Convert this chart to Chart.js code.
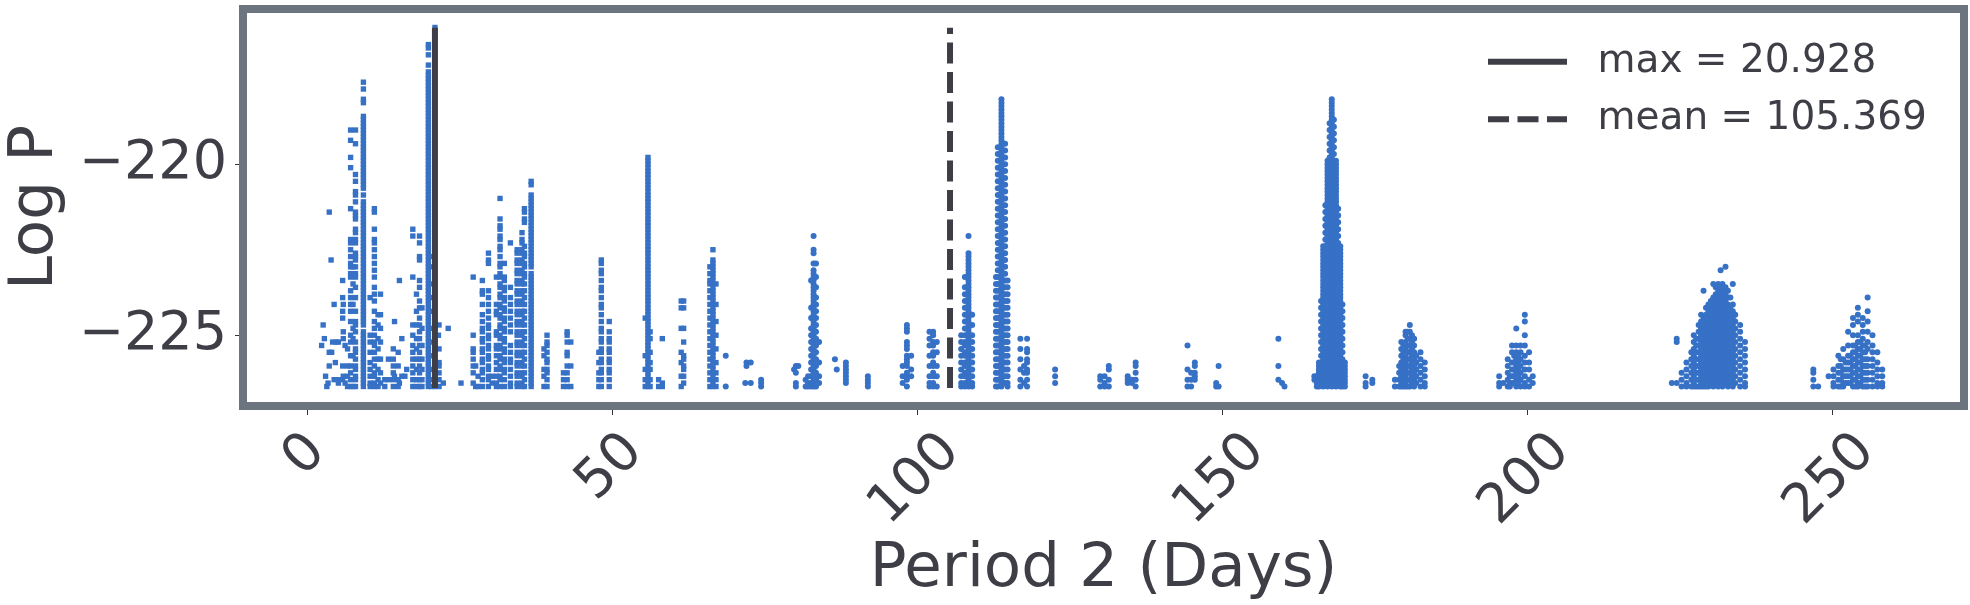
<!DOCTYPE html>
<html>
<head>
<meta charset="utf-8">
<script src="https://cdn.jsdelivr.net/npm/chart.js@4/dist/chart.umd.min.js"></script>
<style>
  html, body { margin: 0; background: #fff; }
  canvas { display: block; }
</style>
</head>
<body>
<canvas id="periodChart" width="1970" height="605"></canvas>
<script>
const maxPeriod = 20.928;
const meanPeriod = 105.369;
const lineLogP = [-226.54, -216.01];
const xTicks = [0, 50, 100, 150, 200, 250];
const yTicks = [-225, -220];

// each period has its list of log P values
const shortPeriods = [2.35, 2.6, 2.8, 3, 3.2, 3.4, 3.6, 3.9, 4, 4.15, 4.4, 4.6, 4.7, 5.1, 5.8, 5.9, 6.2, 6.6,
  7.1, 7.5, 7.9, 9.2, 10.3, 11, 11.6, 12, 12.7, 13.3, 14.1, 14.3, 14.9, 15.1, 15.5, 16, 16.3,
  17.3, 17.9, 18.4, 18.8, 19.85, 20.4, 20.93, 21.5, 21.6, 22.3, 23.1, 25.2,
  27.2, 27.6, 28, 28.7, 29.7, 30.3, 31, 31.6, 32.3, 33.3, 34.4, 35.2, 35.6, 36.7,
  38.8, 39.3, 42, 42.6, 43.2, 47.8, 48.2, 49.5, 55.4, 55.85, 56.2, 57.6, 58.2, 61.3, 61.7, 66, 66.5, 67];
const shortLogP = [
  [-225.3], [-224.7], [-225.1], [-226.2], [-226.5], [-226.4], [-221.4, -225.5, -225.9], [-222.8], [-225.5], [-225.2],
  [-224.1, -226.3], [-225.8], [-225.2], [-225.2, -226.3, -226.4], [-223.4, -223.9, -224.3, -224.5, -225.9, -226.3],
  [-224.1, -224.9, -225.1, -226.2], [-225.3, -226.4], [-225.4, -225.9, -226.2, -226.5],
  [-219, -219.3, -219.8, -220.1, -221.3, -222.2, -222.3, -222.5, -222.7, -222.9, -223, -223.2, -223.3, -223.7, -223.9, -224.1, -224.3, -224.6, -225, -225.2, -225.6, -225.9, -226.1, -226.3, -226.5],
  [-223, -223.5, -224.1, -224.8, -225.1, -225.6, -226.5],
  [-219, -219.4, -220.3, -220.5, -220.8, -220.9, -221.1, -221.4, -221.5, -221.6, -221.9, -222, -222.2, -222.3, -222.6, -222.7, -222.8, -223, -223.2, -223.3, -223.6, -223.9, -224.3, -224.6, -224.7, -224.9, -225.2, -225.4, -225.5, -225.7, -225.9, -226, -226.2, -226.3, -226.5],
  [-217.6, -217.8, -218.1, -218.2, -218.6, -218.7, -218.8, -218.9, -219, -219.1, -219.2, -219.3, -219.4, -219.5, -219.6, -219.7, -219.8, -219.9, -220, -220.1, -220.2, -220.3, -220.4, -220.5, -220.6, -220.7, -220.9, -221.1, -221.2, -221.3, -221.4, -221.5, -221.6, -221.7, -221.8, -221.9, -222, -222.1, -222.2, -222.3, -222.4, -222.5, -222.6, -222.7, -222.8, -222.9, -223, -223.1, -223.2, -223.3, -223.4, -223.5, -223.6, -223.7, -223.8, -223.9, -224, -224.1, -224.2, -224.3, -224.4, -224.5, -224.6, -224.7, -224.9, -225, -225.1, -225.2, -225.3, -225.4, -225.5, -225.6, -225.7, -225.8, -225.9, -226, -226.1, -226.2, -226.3, -226.4, -226.5],
  [-223.9, -225, -225.2, -225.5, -225.8, -226, -226.2, -226.4, -226.5],
  [-221.3, -221.4, -221.9, -222.2, -222.3, -222.5, -222.7, -222.9, -223.1, -223.3, -223.6, -223.8, -224, -224.3, -224.6, -224.8, -225, -225.2, -225.3, -225.5, -225.7, -225.9, -226.1, -226.2, -226.4, -226.5],
  [-224.4, -224.7, -225.1, -225.4, -225.7, -226, -226.3, -226.5],
  [-223.8, -224.4, -224.8, -225.2, -225.7, -226.1, -226.4],
  [-226.3, -226.5], [-225.7, -226.3], [-225.4, -225.7, -225.9, -226.1, -226.3, -226.5], [-224.6, -226.2],
  [-225.5, -225.9, -226.3, -226.5], [-223.4, -226.4], [-225.1, -226.2], [-226.2], [-226],
  [-221.9, -222.1, -223.3, -224.7, -225, -225.3, -225.5, -225.7, -225.9, -226.1, -226.3, -226.5],
  [-223.8, -224.3, -224.7, -225.1, -225.4, -225.7, -226, -226.3, -226.5],
  [-222.1, -222.3, -222.7, -222.8, -223.4, -223.6, -224, -224.2, -224.5, -224.7, -224.9, -225.1, -225.3, -225.5, -225.7, -225.9, -226.1, -226.3, -226.5],
  [-224.2, -224.8, -225.3, -225.7, -226, -226.3, -226.5],
  [-216.5, -216.6, -216.8, -217.1, -217.3, -217.4, -217.5, -217.6, -217.7, -217.8, -217.9, -218, -218.1, -218.2, -218.3, -218.4, -218.5, -218.6, -218.7, -218.8, -218.9, -219, -219.1, -219.2, -219.3, -219.4, -219.5, -219.6, -219.7, -219.8, -219.9, -220, -220.1, -220.2, -220.3, -220.4, -220.5, -220.6, -220.7, -220.8, -220.9, -221, -221.1, -221.2, -221.3, -221.4, -221.5, -221.6, -221.7, -221.8, -221.9, -222, -222.1, -222.2, -222.3, -222.4, -222.5, -222.6, -222.7, -222.8, -222.9, -223, -223.1, -223.2, -223.3, -223.4, -223.5, -223.6, -223.7, -223.8, -223.9, -224, -224.1, -224.2, -224.3, -224.4, -224.5, -224.6, -224.7, -224.8, -224.9, -225, -225.1, -225.2, -225.3, -225.4, -225.5, -225.6, -225.7, -225.8, -225.9, -226, -226.1, -226.2, -226.3, -226.4, -226.5],
  [-222.7, -223, -223.5, -223.9, -224.3, -224.8, -225.2, -225.6, -226, -226.3, -226.5],
  [-216, -216.2, -226.3, -226.5],
  [-225], [-224.7, -225.4, -225.8, -225.9, -226.1, -226.3, -226.5], [-226.4], [-224.8], [-226.4],
  [-223.3, -225, -225.4, -225.5, -225.7, -225.9, -226.1, -226.4], [-225.9, -226.5], [-226.2, -226.5],
  [-223.4, -223.7, -223.8, -224.1, -224.4, -224.6, -224.8, -224.9, -225.1, -225.2, -225.4, -225.5, -225.7, -225.8, -226, -226.1, -226.3, -226.5],
  [-222.6, -222.8, -222.9, -223.7, -223.9, -224.1, -224.3, -224.5, -224.7, -224.8, -225, -225.1, -225.3, -225.4, -225.6, -225.7, -225.9, -226, -226.2, -226.3, -226.5],
  [-226.2, -226.4], [-223.3, -224.1, -224.3, -224.4, -224.9, -225, -225.3, -225.4, -225.6, -225.8, -226, -226.2, -226.4, -226.5],
  [-221, -221.6, -221.8, -221.9, -222.1, -222.2, -222.4, -222.5, -222.7, -222.9, -223, -223.2, -223.3, -223.5, -223.6, -223.8, -223.9, -224.1, -224.2, -224.4, -224.5, -224.7, -224.8, -225, -225.1, -225.3, -225.4, -225.6, -225.7, -225.9, -226, -226.2, -226.3, -226.5],
  [-222.9, -223.3, -223.4, -223.6, -223.7, -223.9, -224, -224.2, -224.3, -224.5, -224.6, -224.8, -224.9, -225.1, -225.2, -225.4, -225.5, -225.7, -225.8, -226, -226.1, -226.3, -226.5],
  [-222.3, -223.6, -223.9, -224.1, -224.3, -224.5, -224.7, -224.9, -225.3, -225.5, -225.7, -225.8, -226, -226.2, -226.4, -226.5],
  [-222.5, -222.6, -222.8, -222.9, -223.1, -223.2, -223.4, -223.5, -223.7, -223.8, -224, -224.1, -224.3, -224.4, -224.6, -224.7, -224.9, -225, -225.2, -225.3, -225.5, -225.6, -225.8, -225.9, -226.1, -226.2, -226.4, -226.5],
  [-222, -222.2, -222.3, -222.5, -222.6, -222.8, -222.9, -223.1, -223.2, -223.4, -223.5, -223.7, -223.8, -224, -224.1, -224.3, -224.4, -224.6, -224.7, -224.9, -225, -225.2, -225.3, -225.5, -225.6, -225.8, -225.9, -226.1, -226.2, -226.4, -226.5],
  [-221.3, -221.4, -221.6, -221.7, -222.4, -222.6, -222.7, -222.9, -223, -223.2, -223.3, -223.5, -223.7, -223.9, -224.1, -224.3, -224.5, -224.7, -224.9, -225.1, -225.3, -225.5, -225.7, -225.9, -226.1, -226.3, -226.5],
  [-220.5, -220.6, -220.9, -221, -221.1, -221.2, -221.3, -221.4, -221.5, -221.6, -221.7, -221.8, -221.9, -222, -222.1, -222.2, -222.3, -222.4, -222.5, -222.6, -222.7, -222.8, -222.9, -223, -223.2, -223.3, -223.4, -223.5, -223.6, -223.7, -223.8, -223.9, -224, -224.1, -224.2, -224.3, -224.4, -224.5, -224.6, -224.7, -224.8, -224.9, -225, -225.1, -225.2, -225.3, -225.4, -225.5, -225.6, -225.7, -225.8, -225.9, -226, -226.1, -226.2, -226.3, -226.4, -226.5],
  [-225.4, -225.6, -226, -226.2, -226.5], [-225, -225.2, -225.3, -225.5, -225.7, -225.8, -226, -226.1, -226.3, -226.5],
  [-226.1, -226.3, -226.5], [-224.9, -225, -225.2, -225.5, -225.6, -225.9, -226.1, -226.3, -226.5], [-225.2, -225.9, -226.5],
  [-225.5, -225.8, -226.1, -226.3, -226.5],
  [-222.8, -222.9, -223.1, -223.2, -223.4, -223.6, -223.7, -223.9, -224.1, -224.2, -224.4, -224.6, -224.8, -224.9, -225.1, -225.2, -225.4, -225.5, -225.7, -225.8, -226, -226.1, -226.3, -226.5],
  [-224.6, -224.9, -225.1, -225.2, -225.4, -225.5, -225.7, -225.8, -226, -226.1, -226.3, -226.5],
  [-224.5, -225.6, -226, -226.3, -226.5],
  [-219.8, -219.9, -220, -220.1, -220.2, -220.3, -220.4, -220.5, -220.6, -220.7, -220.8, -220.9, -221, -221.1, -221.2, -221.3, -221.4, -221.5, -221.6, -221.7, -221.8, -221.9, -222, -222.1, -222.2, -222.3, -222.4, -222.5, -222.6, -222.7, -222.8, -222.9, -223, -223.1, -223.2, -223.3, -223.4, -223.5, -223.6, -223.7, -223.8, -223.9, -224, -224.1, -224.2, -224.3, -224.4, -224.5, -224.6, -224.7, -224.8, -224.9, -225, -225.1, -225.2, -225.3, -225.4, -225.5, -225.6, -225.7, -225.8, -225.9, -226, -226.1, -226.2, -226.3, -226.4, -226.5],
  [-224.9, -225.1, -225.5, -225.8, -226, -226.3, -226.5], [-226.3, -226.5], [-225.1, -226.4, -226.5],
  [-224, -224.2, -224.8, -225.5, -225.8, -226.2, -226.5], [-224, -224.2, -224.8, -225.2, -225.6, -225.7, -225.9, -226, -226.2, -226.4],
  [-223, -223.2, -223.4, -223.5, -223.7, -223.9, -224.1, -224.3, -224.5, -224.7, -224.9, -225.1, -225.3, -225.5, -225.7, -225.9, -226.1, -226.3, -226.5],
  [-222.5, -222.8, -222.9, -223, -223.1, -223.2, -223.3, -223.4, -223.5, -223.6, -223.7, -223.8, -223.9, -224, -224.1, -224.2, -224.3, -224.4, -224.5, -224.6, -224.7, -224.8, -224.9, -225, -225.1, -225.2, -225.3, -225.4, -225.5, -225.6, -225.7, -225.8, -225.9, -226, -226.1, -226.2, -226.3, -226.4, -226.5],
  [-223.5, -224.1, -224.6, -225, -225.4, -225.8, -226.1, -226.3, -226.5]
];

const longPeriods = [68.6, 71.8, 72, 72.7, 74.4, 79.8, 80.1, 80.5, 81.7, 82.1,
  82.6, 83, 83.4, 83.9, 86.5, 86.8, 88.3, 91.9, 97.6, 98.3, 99, 102, 102.6, 103.2,
  107.2, 107.8, 108.4, 109, 112.9, 113.2, 113.8, 114.4, 114.8, 116.9, 117.5, 118, 122.6,
  130, 130.7, 131.4, 134.5, 135.2, 135.8, 144.3, 144.9, 145.5, 149, 149.4, 159.2, 159.8, 160.2,
  165.1, 165.5, 165.85, 166.2, 166.55, 166.9, 167.25, 167.6, 167.95, 168.3, 168.65, 169, 169.35, 169.7, 170.1,
  173.5, 174.6, 178.3, 179, 179.35, 179.7, 180.05, 180.4, 180.75, 181.1, 181.45, 181.8, 182.5, 183.2,
  195.4, 196.1, 196.8, 197.5, 198.2, 198.9, 199.6, 200.3, 200.9,
  223.7, 224.5, 225.3, 226.1, 226.9, 227.3, 227.7, 228.1, 228.5, 228.9, 229.3, 229.7, 230.1, 230.5, 230.9, 231.3, 231.7, 232, 232.5, 232.9, 233.3, 233.7, 234.1, 234.9, 235.7,
  246.9, 247.7, 249.4, 250.2, 251, 251.8, 252.6, 253.4, 254.2, 255, 255.8, 256.6, 257.4, 258.2,
  197.15, 197.85, 198.55, 251.4, 252.2, 253, 253.8, 254.6, 255.4];
const longLogP = [
  [-225.6, -226.5], [-226.4], [-225.8, -225.9], [-225.8, -226.4], [-226.3, -226.4, -226.5], [-226], [-225.9, -226.1, -226.4, -226.5], [-225.9], [-226.3, -226.5], [-226.2, -226.4, -226.5],
  [-223.4, -224.2, -224.5, -224.8, -225, -225.2, -225.4, -225.6, -225.8, -226, -226.2, -226.4, -226.5],
  [-222.1, -222.5, -222.6, -222.9, -223.1, -223.2, -223.3, -223.4, -223.5, -223.6, -223.7, -223.8, -223.9, -224, -224.1, -224.2, -224.3, -224.4, -224.5, -224.6, -224.7, -224.8, -224.9, -225, -225.1, -225.2, -225.3, -225.4, -225.5, -225.6, -225.7, -225.8, -225.9, -226, -226.1, -226.2, -226.3, -226.4, -226.5],
  [-222.9, -223.3, -223.6, -223.9, -224.1, -224.3, -224.5, -224.7, -224.9, -225.1, -225.3, -225.5, -225.7, -225.9, -226.1, -226.3, -226.5],
  [-225.2, -225.8, -226.2, -226.4],
  [-225.7], [-226], [-225.8, -225.9, -226, -226.1, -226.2, -226.3, -226.4], [-226.2, -226.3, -226.4, -226.5],
  [-225.9, -226.2, -226.4], [-224.7, -224.8, -224.9, -225.2, -225.3, -225.4, -225.6, -225.7, -225.8, -225.9, -226.1, -226.2, -226.3, -226.5], [-225.6, -226, -226.2],
  [-224.9, -225.1, -225.3, -225.6, -225.9, -226.2, -226.4, -226.5], [-224.9, -225, -225.2, -225.3, -225.5, -225.6, -225.8, -225.9, -226.1, -226.2, -226.4, -226.5], [-225.2, -225.5, -225.9, -226.2, -226.5],
  [-225, -225.2, -225.4, -225.6, -225.8, -226, -226.2, -226.4, -226.5],
  [-223.3, -223.6, -223.8, -224, -224.2, -224.4, -224.6, -224.8, -225, -225.2, -225.3, -225.5, -225.6, -225.8, -225.9, -226.1, -226.2, -226.4, -226.5],
  [-222.1, -222.6, -222.7, -222.8, -222.9, -223, -223.1, -223.2, -223.3, -223.4, -223.5, -223.6, -223.7, -223.8, -223.9, -224, -224.1, -224.2, -224.3, -224.4, -224.5, -224.6, -224.7, -224.8, -224.9, -225, -225.1, -225.2, -225.3, -225.4, -225.5, -225.6, -225.7, -225.8, -225.9, -226, -226.1, -226.2, -226.3, -226.4, -226.5],
  [-224.4, -224.7, -225, -225.2, -225.4, -225.6, -225.8, -226, -226.2, -226.4, -226.5],
  [-223.3, -223.5, -223.7, -223.9, -224.1, -224.3, -224.5, -224.7, -224.9, -225.1, -225.3, -225.5, -225.7, -225.9, -226.1, -226.3, -226.5],
  [-219.5, -219.7, -219.9, -220.1, -220.3, -220.5, -220.7, -220.9, -221.1, -221.3, -221.5, -221.7, -221.9, -222.1, -222.3, -222.5, -222.7, -222.9, -223.1, -223.3, -223.5, -223.7, -223.9, -224.1, -224.3, -224.5, -224.7, -224.9, -225.1, -225.3, -225.5, -225.7, -225.9, -226.1, -226.3, -226.5],
  [-218.1, -218.2, -218.3, -218.4, -218.5, -218.6, -218.7, -218.8, -218.9, -219, -219.1, -219.2, -219.3, -219.4, -219.5, -219.6, -219.7, -219.8, -219.9, -220, -220.1, -220.2, -220.3, -220.4, -220.5, -220.6, -220.7, -220.8, -220.9, -221, -221.1, -221.2, -221.3, -221.4, -221.5, -221.6, -221.7, -221.8, -221.9, -222, -222.1, -222.2, -222.3, -222.4, -222.5, -222.6, -222.7, -222.8, -222.9, -223, -223.1, -223.2, -223.3, -223.4, -223.5, -223.6, -223.7, -223.8, -223.9, -224, -224.1, -224.2, -224.3, -224.4, -224.5, -224.6, -224.7, -224.8, -224.9, -225, -225.1, -225.2, -225.3, -225.4, -225.5, -225.6, -225.7, -225.8, -225.9, -226, -226.1, -226.2, -226.3, -226.4, -226.5],
  [-219.4, -219.6, -219.8, -220, -220.2, -220.4, -220.6, -220.8, -221, -221.2, -221.4, -221.6, -221.8, -222, -222.2, -222.4, -222.6, -222.8, -223, -223.2, -223.4, -223.6, -223.8, -224, -224.2, -224.4, -224.6, -224.8, -225, -225.2, -225.4, -225.6, -225.8, -226, -226.2, -226.4],
  [-223.4, -223.6, -223.8, -224, -224.2, -224.4, -224.6, -224.8, -225, -225.2, -225.4, -225.6, -225.8, -226, -226.2, -226.4, -226.5],
  [-225.1, -225.4, -225.7, -226, -226.3, -226.5],
  [-225.9, -226.1, -226.4], [-225.1, -225.4, -225.5, -225.7, -225.8, -226, -226.1, -226.3, -226.5], [-226, -226.2, -226.4], [-226.2, -226.3, -226.5],
  [-226.2, -226.4, -226.5], [-225.9, -226, -226.3, -226.5], [-226.2, -226.3, -226.4], [-226.3, -226.4], [-225.8, -225.9, -226.1, -226.3, -226.5], [-225.3, -226, -226.3, -226.5],
  [-226.1, -226.3, -226.5], [-225.8, -225.9, -226.1, -226.2, -226.3], [-226.4, -226.5], [-226.5, -225.9], [-225.1, -225.9, -226.3], [-226.4], [-226.5], [-226.2, -226.3],
  [-226.2, -226.4, -226.5], [-225.8, -225.9, -226, -226.1, -226.2, -226.3, -226.4, -226.5],
  [-224, -224.2, -224.4, -224.6, -224.8, -225, -225.2, -225.4, -225.6, -225.8, -226, -226.2, -226.4],
  [-222.4, -222.5, -222.6, -222.7, -222.8, -222.9, -223, -223.1, -223.2, -223.3, -223.4, -223.5, -223.6, -223.7, -223.8, -223.9, -224, -224.1, -224.2, -224.3, -224.4, -224.5, -224.6, -224.7, -224.8, -224.9, -225, -225.1, -225.2, -225.3, -225.4, -225.5, -225.6, -225.7, -225.8, -225.9, -226, -226.1, -226.2, -226.3, -226.4, -226.5],
  [-221.2, -221.4, -221.6, -221.8, -222, -222.2, -222.4],
  [-219.9, -220, -220.1, -220.2, -220.3, -220.4, -220.5, -220.6, -220.7, -220.8, -220.9, -221, -221.1, -221.2, -221.3, -221.4, -221.5, -221.6, -221.7, -221.8, -221.9, -222, -222.1, -222.2, -222.3, -222.4, -222.5, -222.6, -222.7, -222.8, -222.9, -223, -223.1, -223.2, -223.3, -223.4, -223.5, -223.6, -223.7, -223.8, -223.9, -224, -224.1, -224.2, -224.3, -224.4, -224.5, -224.6, -224.7, -224.8, -224.9, -225, -225.1, -225.2, -225.3, -225.4, -225.5, -225.6, -225.7, -225.8, -225.9, -226, -226.1, -226.2, -226.3, -226.4, -226.5],
  [-218.8, -219, -219.2, -219.4, -219.6, -219.8, -220],
  [-218.1, -218.2, -218.3, -218.4, -218.5, -218.6, -218.7, -218.8, -218.9, -219, -219.1, -219.2, -219.3, -219.4, -219.5, -219.6, -219.7, -219.8, -219.9, -220, -220.1, -220.2, -220.3, -220.4, -220.5, -220.6, -220.7, -220.8, -220.9, -221, -221.1, -221.2, -221.3, -221.4, -221.5, -221.6, -221.7, -221.8, -221.9, -222, -222.1, -222.2, -222.3, -222.4, -222.5, -222.6, -222.7, -222.8, -222.9, -223, -223.1, -223.2, -223.3, -223.4, -223.5, -223.6, -223.7, -223.8, -223.9, -224, -224.1, -224.2, -224.3, -224.4, -224.5, -224.6, -224.7, -224.8, -224.9, -225, -225.1, -225.2, -225.3, -225.4, -225.5, -225.6, -225.7, -225.8, -225.9, -226, -226.1, -226.2, -226.3, -226.4, -226.5],
  [-218.7, -218.9, -219.1, -219.3, -219.5, -219.7, -219.9],
  [-219.9, -220, -220.1, -220.2, -220.3, -220.4, -220.5, -220.6, -220.7, -220.8, -220.9, -221, -221.1, -221.2, -221.3, -221.4, -221.5, -221.6, -221.7, -221.8, -221.9, -222, -222.1, -222.2, -222.3, -222.4, -222.5, -222.6, -222.7, -222.8, -222.9, -223, -223.1, -223.2, -223.3, -223.4, -223.5, -223.6, -223.7, -223.8, -223.9, -224, -224.1, -224.2, -224.3, -224.4, -224.5, -224.6, -224.7, -224.8, -224.9, -225, -225.1, -225.2, -225.3, -225.4, -225.5, -225.6, -225.7, -225.8, -225.9, -226, -226.1, -226.2, -226.3, -226.4, -226.5],
  [-221.3, -221.5, -221.7, -221.9, -222.1, -222.3],
  [-222.4, -222.5, -222.6, -222.7, -222.8, -222.9, -223, -223.1, -223.2, -223.3, -223.4, -223.5, -223.6, -223.7, -223.8, -223.9, -224, -224.1, -224.2, -224.3, -224.4, -224.5, -224.6, -224.7, -224.8, -224.9, -225, -225.1, -225.2, -225.3, -225.4, -225.5, -225.6, -225.7, -225.8, -225.9, -226, -226.1, -226.2, -226.3, -226.4, -226.5],
  [-224.1, -224.3, -224.5, -224.7, -224.9, -225.1, -225.3, -225.5, -225.7, -225.9, -226.1, -226.3, -226.5],
  [-225.8, -225.9, -226, -226.1, -226.2, -226.3, -226.4, -226.5], [-226.2, -226.4, -226.5],
  [-226.3, -226.4], [-226.3, -226.5],
  [-225.9, -226.1, -226.3, -226.5], [-225.2, -225.4, -225.6, -225.8, -226, -226.2, -226.4, -226.5],
  [-225.3, -225.5, -225.7, -225.9, -226.1, -226.3, -226.5],
  [-224.9, -225, -225.2, -225.4, -225.6, -225.8, -226, -226.2, -226.4, -226.5],
  [-224.9, -225.1, -225.3, -225.5, -225.7, -225.9, -226.1, -226.3, -226.5],
  [-224.7, -224.9, -225.1, -225.3, -225.5, -225.7, -225.9, -226.1, -226.3, -226.5],
  [-225, -225.2, -225.4, -225.6, -225.8, -226, -226.2, -226.4],
  [-225.1, -225.3, -225.5, -225.7, -225.9, -226.1, -226.3, -226.5],
  [-225.6, -225.8, -226, -226.2, -226.4], [-225.5, -225.7, -225.9, -226.1, -226.3, -226.5], [-225.8, -226, -226.2, -226.4, -226.5], [-226.2, -226.4, -226.5],
  [-226.4], [-225.7, -225.9, -226.1, -226.3, -226.5], [-225.3, -225.5, -225.8, -226, -226.2, -226.4], [-224.8, -225.3, -225.5, -225.7, -225.9, -226.1, -226.3, -226.5], [-225.3, -225.5, -225.7, -225.9, -226.1, -226.3, -226.5], [-224.4, -224.6, -225, -225.3, -225.6, -225.8, -226, -226.2, -226.4, -226.5], [-225.5, -225.8, -226, -226.3, -226.5], [-226.2, -226.4], [-226.4],
  [-225.1, -225.2, -226.4],
  [-226.1, -226.3, -226.5], [-225.8, -226, -226.2, -226.4, -226.5], [-225.5, -225.7, -225.9, -226.1, -226.3, -226.5],
  [-225, -225.2, -225.4, -225.6, -225.8, -226, -226.2, -226.4, -226.5],
  [-225.1, -225.3, -225.5, -225.7, -225.9, -226.1, -226.3, -226.5],
  [-224.7, -224.9, -225.1, -225.3, -225.5, -225.7, -225.9, -226.1, -226.3, -226.5],
  [-224.4, -224.6, -224.8, -225, -225.2, -225.4, -225.6, -225.8, -226, -226.2, -226.4, -226.5],
  [-223.7, -224.5, -224.7, -224.9, -225.1, -225.3, -225.5, -225.7, -225.9, -226.1, -226.3, -226.5],
  [-224.2, -224.4, -224.6, -224.8, -225, -225.2, -225.4, -225.6, -225.8, -226, -226.2, -226.4, -226.5],
  [-224.1, -224.3, -224.5, -224.7, -224.9, -225.1, -225.3, -225.5, -225.7, -225.9, -226.1, -226.3, -226.5],
  [-224, -224.2, -224.4, -224.6, -224.8, -225, -225.2, -225.4, -225.6, -225.8, -226, -226.2, -226.4],
  [-223.5, -223.9, -224.1, -224.3, -224.5, -224.7, -224.9, -225.1, -225.3, -225.5, -225.7, -225.9, -226.1, -226.3, -226.5],
  [-223.6, -223.8, -224, -224.2, -224.4, -224.6, -224.8, -225, -225.2, -225.4, -225.6, -225.8, -226, -226.2, -226.4],
  [-223.5, -223.7, -223.9, -224.1, -224.3, -224.5, -224.7, -224.9, -225.1, -225.3, -225.5, -225.7, -225.9, -226.1, -226.3, -226.5],
  [-223.1, -223.6, -223.8, -224, -224.2, -224.4, -224.6, -224.8, -225, -225.2, -225.4, -225.6, -225.8, -226, -226.2, -226.4],
  [-223.5, -223.7, -223.9, -224.1, -224.3, -224.5, -224.7, -224.9, -225.1, -225.3, -225.5, -225.7, -225.9, -226.1, -226.3, -226.5],
  [-223, -223.6, -223.8, -224, -224.2, -224.4, -224.6, -224.8, -225, -225.2, -225.4, -225.6, -225.8, -226, -226.2, -226.4],
  [-223.7, -223.9, -224.1, -224.3, -224.5, -224.7, -224.9, -225.1, -225.3, -225.5, -225.7, -225.9, -226.1, -226.3, -226.5],
  [-223.9, -224.2, -224.4, -224.6, -224.8, -225, -225.2, -225.4, -225.6, -225.8, -226, -226.2, -226.4],
  [-223.5, -224.1, -224.3, -224.5, -224.7, -224.9, -225.1, -225.3, -225.5, -225.7, -225.9, -226.1, -226.3, -226.5],
  [-224.4, -224.6, -224.8, -225, -225.2, -225.4, -225.6, -225.8, -226, -226.2, -226.4],
  [-224.7, -224.9, -225.1, -225.3, -225.5, -225.7, -225.9, -226.1, -226.3, -226.5],
  [-225.2, -225.4, -225.6, -225.8, -226, -226.2, -226.4, -226.5],
  [-226, -226.1, -226.3, -226.5],
  [-226.5], [-226.2], [-226, -226.2, -226.4, -226.5], [-225.6, -225.9, -226.1, -226.3, -226.5], [-225.4, -225.7, -226, -226.2, -226.4, -226.5],
  [-224.9, -225.3, -225.6, -225.8, -226, -226.2, -226.4], [-224.5, -224.7, -225, -225.3, -225.5, -225.7, -225.9, -226.1, -226.3, -226.5],
  [-224.2, -224.4, -224.6, -225, -225.2, -225.4, -225.6, -225.8, -226, -226.2, -226.4, -226.5], [-224.5, -224.7, -224.9, -225.1, -225.3, -225.5, -225.7, -225.9, -226.1, -226.3, -226.5],
  [-223.9, -224.3, -224.6, -224.9, -225.2, -225.4, -225.7, -225.9, -226.1, -226.3, -226.5], [-225, -225.3, -225.5, -225.7, -225.9, -226.1, -226.3, -226.5], [-225.5, -225.8, -226, -226.2, -226.4, -226.5], [-226, -226.2, -226.4, -226.5], [-226.2, -226.4, -226.5],
  [-225.6, -225.8, -226, -226.2, -226.4], [-225.6, -225.8, -226, -226.2, -226.4], [-225.7, -225.9, -226.1, -226.3, -226.5],
  [-225.8, -226, -226.2, -226.4], [-225.6, -225.8, -226, -226.2, -226.4], [-225.3, -225.5, -225.7, -225.9, -226.1, -226.3, -226.5], [-225.2, -225.4, -225.6, -225.8, -226, -226.2, -226.4], [-225.3, -225.5, -225.7, -225.9, -226.1, -226.3, -226.5], [-225.6, -225.8, -226, -226.2, -226.4]
];

const blue = "#3671c6";
const ink = "#3e3e46";

function toPoints(periods, values) {
  return periods.flatMap((p, i) => values[i].map((v) => ({ x: p, y: v })));
}

const periodLine = (label, x, dash) => ({
  label: label,
  data: lineLogP.map((v) => ({ x: x, y: v })),
  showLine: true,
  borderColor: ink,
  borderWidth: 6,
  borderDash: dash,
  pointRadius: 0
});

// matplotlib centres the rotated labels on the tick, chart.js does not, so these go by hand
const rotatedTicks = {
  id: "rotatedTicks",
  afterDraw(chart) {
    const ctx = chart.ctx;
    const size = 54;
    ctx.save();
    ctx.font = size + "px 'DejaVu Sans'";
    ctx.fillStyle = ink;
    ctx.textAlign = "center";
    ctx.textBaseline = "middle";
    xTicks.forEach((t) => {
      const label = String(t);
      const w = ctx.measureText(label).width;
      const h = (w + 0.6 * size) * Math.SQRT1_2;
      ctx.save();
      ctx.translate(chart.scales.x.getPixelForValue(t) - 2, 432 + h / 2);
      ctx.rotate(-Math.PI / 4);
      ctx.fillText(label, 0, 0);
      ctx.restore();
    });
    ctx.restore();
  }
};

const frame = {
  id: "frame",
  afterDatasetsDraw(chart) {
    const a = chart.chartArea;
    const ctx = chart.ctx;
    ctx.save();
    ctx.strokeStyle = "#6c7480";
    ctx.lineWidth = 8;
    ctx.strokeRect(a.left, a.top, a.right - a.left, a.bottom - a.top);
    ctx.restore();
  }
};

// the legend sits inside the axes, top right
const moveLegend = {
  id: "moveLegend",
  beforeDraw(chart) {
    chart.legend.left = 1469.5;
    chart.legend.right = 1960;
    chart.legend.top = 21;
    chart.legend.bottom = 160;
  }
};

new Chart(document.getElementById("periodChart"), {
  type: "scatter",
  data: {
    datasets: [
      periodLine("max = " + maxPeriod, maxPeriod, []),
      periodLine("mean = " + meanPeriod, meanPeriod, [21, 8.5]),
      {
        label: "short",
        data: toPoints(shortPeriods, shortLogP),
        backgroundColor: blue,
        pointStyle: "rect",
        pointRadius: 3.8,
        pointBorderWidth: 0
      },
      {
        label: "long",
        data: toPoints(longPeriods, longLogP),
        backgroundColor: blue,
        pointRadius: 3,
        pointBorderWidth: 0
      }
    ]
  },
  options: {
    responsive: false,
    animation: false,
    events: [],
    layout: { padding: { top: 9, right: 6 } },
    scales: {
      x: {
        type: "linear",
        min: -10.54,
        max: 271.6,
        // fix the axes box and drop chart.js's room for half a tick label
        afterFit: (s) => { s.height = 199; s.paddingLeft = 0; s.paddingRight = 0; },
        afterBuildTicks: (s) => { s.ticks = xTicks.map((v) => ({ value: v })); },
        border: { display: false },
        grid: { drawOnChartArea: false, tickLength: 9, color: "#333", lineWidth: 1 },
        ticks: { display: false, autoSkip: false },
        title: {
          display: true,
          text: "Period 2 (Days)",
          color: ink,
          font: { family: "'DejaVu Sans'", size: 61 },
          padding: { top: 0, bottom: -2 }
        }
      },
      y: {
        type: "linear",
        min: -227.07,
        max: -215.46,
        afterFit: (s) => { s.width = 243; s.paddingTop = 0; s.paddingBottom = 0; },
        afterBuildTicks: (s) => { s.ticks = yTicks.map((v) => ({ value: v })); },
        border: { display: false },
        grid: { drawOnChartArea: false, tickLength: 8, color: "#333", lineWidth: 1 },
        ticks: {
          autoSkip: false,
          padding: 8,
          color: ink,
          font: { family: "'DejaVu Sans'", size: 54 },
          callback: (v) => String(v).replace("-", "\u2212")
        },
        title: {
          display: true,
          text: "Log P",
          color: ink,
          font: { family: "'DejaVu Sans'", size: 61 },
          padding: { top: 0, bottom: 9 }
        }
      }
    },
    plugins: {
      tooltip: { enabled: false },
      legend: {
        position: "chartArea",
        labels: {
          usePointStyle: true,
          pointStyleWidth: 90,
          boxHeight: 6,
          padding: 18.5,
          color: ink,
          font: { family: "'DejaVu Sans'", size: 39 },
          // the long gap in the dash pattern leaves room between the sample line and its text
          generateLabels: () => [
            { text: "max = " + maxPeriod, pointStyle: "line", strokeStyle: ink, lineWidth: 6, lineDash: [79, 100], fontColor: ink },
            { text: "mean = " + meanPeriod, pointStyle: "line", strokeStyle: ink, lineWidth: 6, lineDash: [21, 8.5, 21, 8.5, 20, 100], fontColor: ink }
          ]
        }
      }
    }
  },
  plugins: [moveLegend, frame, rotatedTicks]
});
</script>
</body>
</html>
